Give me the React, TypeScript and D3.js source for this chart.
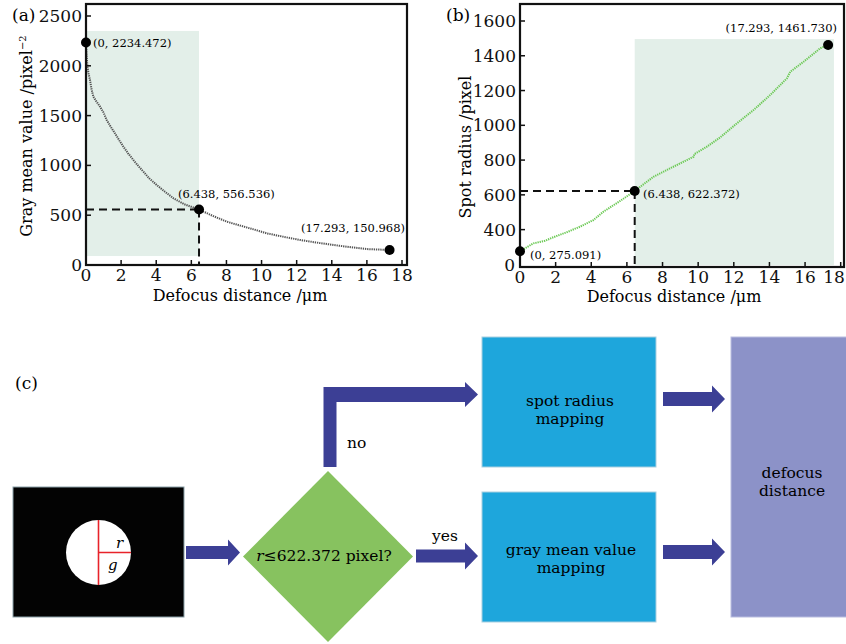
import React from "react";
import * as d3 from "d3";

// ---------- data ----------
const grayX = [0, 0.04, 0.08, 0.15, 0.23, 0.32, 0.42, 0.6, 0.8, 1.0, 1.18, 1.4, 1.65, 1.9, 2.13, 2.4, 2.7, 3.0, 3.27, 3.6, 4.03, 4.5, 4.98, 5.6, 6.438, 7.2, 8.02, 8.8, 9.54, 10.3, 11.2, 12.2, 13.1, 14.1, 15.0, 16.0, 16.7, 17.293];
const grayY = [2234.472, 2100, 1990, 1920, 1855, 1760, 1690, 1640, 1590, 1530, 1456, 1390, 1322, 1250, 1188, 1120, 1054, 990, 937, 870, 803, 735, 670, 610, 556.536, 495, 435, 395, 358, 318, 285, 251, 226, 201, 180, 160, 155, 150.968];

const radiusX = [0, 0.4, 0.75, 1.4, 1.87, 2.62, 3.37, 4.12, 4.68, 5.62, 6.438, 7.49, 8.24, 9.36, 9.74, 9.79, 10.49, 11.24, 12.17, 13.11, 14.04, 14.98, 15.17, 15.92, 16.85, 17.293];
const radiusY = [275.091, 300, 321, 336, 356, 385, 417, 455, 503, 565, 622.372, 704, 743, 800, 819, 835, 877, 931, 1011, 1088, 1174, 1270, 1308, 1366, 1443, 1461.73];

const xTicks = [0, 2, 4, 6, 8, 10, 12, 14, 16, 18];
const yTicksA = [0, 500, 1000, 1500, 2000, 2500];
const yTicksB = [400, 600, 800, 1000, 1200, 1400, 1600];
const yBottomLabelB = "0";

const keyA = [
  { x: 0, y: 2234.472, label: "(0, 2234.472)" },
  { x: 6.438, y: 556.536, label: "(6.438, 556.536)" },
  { x: 17.293, y: 150.968, label: "(17.293, 150.968)" },
];
const keyB = [
  { x: 0, y: 275.091, label: "(0, 275.091)" },
  { x: 6.438, y: 622.372, label: "(6.438, 622.372)" },
  { x: 17.293, y: 1461.73, label: "(17.293, 1461.730)" },
];
const shadeA = { x0: 0, x1: 6.438, y0: 90, y1: 2350 };
const shadeB = { x0: 6.438, x1: 17.62, y0: 196, y1: 1496 };

const FONT = "'DejaVu Serif', serif";
const SHADE = "#e3efe9";
const ARROW = "#3c3f95";

function Axes({ x, y, xt, yt, frame, bottomLabel }: any) {
  return (
    <g fontFamily={FONT} fill="#111">
      {xt.map((t: number) => {
        const lx = Math.min(x(t), 834);
        return (
          <g key={"x" + t}>
            <line x1={x(t)} x2={x(t)} y1={frame.b} y2={frame.b - 5} stroke="#111" strokeWidth={1.5} />
            <text x={lx} y={frame.b + 16} fontSize={17} textAnchor="middle">{t}</text>
          </g>
        );
      })}
      {yt.map((t: number) => (
        <g key={"y" + t}>
          <line x1={frame.l} x2={frame.l + 5} y1={y(t)} y2={y(t)} stroke="#111" strokeWidth={1.5} />
          <text x={frame.l - 4} y={y(t) + 6} fontSize={17} textAnchor="end">{t}</text>
        </g>
      ))}
      {bottomLabel && (
        <text x={frame.l - 5} y={frame.b + 4} fontSize={17} textAnchor="end">{bottomLabel}</text>
      )}
      <rect x={frame.l} y={frame.t} width={frame.r - frame.l} height={frame.b - frame.t} fill="none" stroke="#111" strokeWidth={2.2} />
    </g>
  );
}

function Arrow({ x0, xh, tip, cy, h, H }: any) {
  const pts = [
    [x0, cy - h], [xh, cy - h], [xh, cy - H], [tip, cy], [xh, cy + H], [xh, cy + h], [x0, cy + h],
  ];
  return <polygon points={pts.map((p) => p.join(",")).join(" ")} fill={ARROW} />;
}

export default function App() {
  // panel (a)
  const fA = { l: 86, r: 407, t: 4, b: 265 };
  const xA = d3.scaleLinear().domain([0, 18]).range([86, 402]);
  const yA = d3.scaleLinear().domain([0, 2500]).range([265, 16]);
  const lineA = d3.line<number>().x((_, i) => xA(grayX[i])).y((d) => yA(d)).curve(d3.curveLinear);

  // panel (b)
  const fB = { l: 520, r: 844, t: 4, b: 267 };
  const xB = d3.scaleLinear().domain([0, 18]).range([520, 840.7]);
  const yB = d3.scaleLinear().domain([185, 1600]).range([267, 21]);
  const lineB = d3.line<number>().x((_, i) => xB(radiusX[i])).y((d) => yB(d));

  const kA = keyA[1];
  const kB = keyB[1];

  return (
    <svg width={846} height={644} style={{ position: "absolute", left: 0, top: 0, background: "#fff" }} fontFamily={FONT}>
      <rect width={846} height={644} fill="#fff" />
      {/* ---------- panel a ---------- */}
      <rect x={xA(shadeA.x0)} y={yA(shadeA.y1)} width={xA(shadeA.x1) - xA(shadeA.x0)} height={yA(shadeA.y0) - yA(shadeA.y1)} fill={SHADE} />
      <path d={lineA(grayY) || ""} fill="none" stroke="#555" strokeWidth={2} strokeDasharray="1.3 0.9" />
      <line x1={fA.l} x2={xA(kA.x)} y1={yA(kA.y)} y2={yA(kA.y)} stroke="#111" strokeWidth={2} strokeDasharray="8 5" />
      <line x1={xA(kA.x)} x2={xA(kA.x)} y1={yA(kA.y)} y2={fA.b} stroke="#111" strokeWidth={2} strokeDasharray="8 5" />
      <Axes x={xA} y={yA} xt={xTicks} yt={yTicksA} frame={fA} />
      {keyA.map((k) => (
        <circle key={k.label} cx={xA(k.x)} cy={yA(k.y)} r={5} fill="#000" />
      ))}
      <text x={93} y={47} fontSize={11.5}>{keyA[0].label}</text>
      <text x={178} y={198} fontSize={11.5}>{keyA[1].label}</text>
      <text x={405} y={232} fontSize={11.5} textAnchor="end">{keyA[2].label}</text>
      <text x={12} y={21} fontSize={17}>(a)</text>
      <text x={240} y={301} fontSize={16} textAnchor="middle">Defocus distance /μm</text>
      <text transform="translate(32,136) rotate(-90)" fontSize={16} textAnchor="middle">
        Gray mean value /pixel<tspan dy={-6} fontSize={10}>−2</tspan>
      </text>

      {/* ---------- panel b ---------- */}
      <rect x={xB(shadeB.x0)} y={yB(shadeB.y1)} width={xB(shadeB.x1) - xB(shadeB.x0)} height={yB(shadeB.y0) - yB(shadeB.y1)} fill={SHADE} />
      <path d={lineB(radiusY) || ""} fill="none" stroke="#6cc955" strokeWidth={2} strokeDasharray="1.3 0.9" />
      <line x1={fB.l} x2={xB(kB.x)} y1={yB(kB.y)} y2={yB(kB.y)} stroke="#111" strokeWidth={2} strokeDasharray="8 5" />
      <line x1={xB(kB.x)} x2={xB(kB.x)} y1={yB(kB.y)} y2={fB.b} stroke="#111" strokeWidth={2} strokeDasharray="8 5" />
      <Axes x={xB} y={yB} xt={xTicks} yt={yTicksB} frame={fB} bottomLabel={yBottomLabelB} />
      {keyB.map((k) => (
        <circle key={k.label} cx={xB(k.x)} cy={yB(k.y)} r={5} fill="#000" />
      ))}
      <text x={530} y={259} fontSize={11.5}>{keyB[0].label}</text>
      <text x={643} y={198} fontSize={11.5}>{keyB[1].label}</text>
      <text x={837} y={32} fontSize={11.5} textAnchor="end">{keyB[2].label}</text>
      <text x={446} y={21} fontSize={17}>(b)</text>
      <text x={674} y={302} fontSize={16} textAnchor="middle">Defocus distance /μm</text>
      <text transform="translate(471,147) rotate(-90)" fontSize={16} textAnchor="middle">Spot radius /pixel</text>

      {/* ---------- panel c (flowchart) ---------- */}
      <text x={15} y={389} fontSize={17}>(c)</text>
      {/* image */}
      <rect x={13} y={487} width={171} height={130} fill="#030303" stroke="#8aa0a8" strokeWidth={1} />
      <circle cx={98.5} cy={552.5} r={32.5} fill="#fff" />
      <line x1={98.5} x2={98.5} y1={520} y2={585} stroke="#e8232a" strokeWidth={1.6} />
      <line x1={98.5} x2={131} y1={552.5} y2={552.5} stroke="#e8232a" strokeWidth={1.6} />
      <text x={116} y={548} fontSize={15} fontStyle="italic">r</text>
      <text x={108} y={570} fontSize={15} fontStyle="italic">g</text>
      <Arrow x0={186} xh={228} tip={240} cy={552.5} h={6.5} H={13} />
      {/* diamond */}
      <polygon points="328,471 413,556.5 328,642 243,556.5" fill="#87c25f" />
      <text x={324} y={561} fontSize={15.5} textAnchor="middle">
        <tspan fontStyle="italic">r</tspan>≤622.372 pixel?
      </text>
      {/* no branch */}
      <polygon points="323.5,467 336.5,467 336.5,402 465,402 465,407 478,394.5 465,382 465,387 323.5,387" fill={ARROW} />
      <text x={347} y={448} fontSize={15.5}>no</text>
      {/* yes branch */}
      <Arrow x0={416} xh={465} tip={478} cy={556} h={6.5} H={13.5} />
      <text x={445} y={541} fontSize={15.5} textAnchor="middle">yes</text>
      {/* boxes */}
      <rect x={482} y={337} width={174} height={130} fill="#1ea6dc" stroke="#a9cfe0" strokeWidth={1} />
      <text x={570} y={406} fontSize={15.5} textAnchor="middle">spot radius</text>
      <text x={570} y={424} fontSize={15.5} textAnchor="middle">mapping</text>
      <rect x={482} y={492} width={174} height={130} fill="#1ea6dc" stroke="#a9cfe0" strokeWidth={1} />
      <text x={571} y={555} fontSize={15.5} textAnchor="middle">gray mean value</text>
      <text x={571} y={573} fontSize={15.5} textAnchor="middle">mapping</text>
      <Arrow x0={663} xh={712} tip={725} cy={399} h={7} H={13.5} />
      <Arrow x0={663} xh={712} tip={725} cy={552} h={7} H={13.5} />
      <rect x={731} y={337} width={120} height={280} fill="#8c92c8" stroke="#b9bde0" strokeWidth={1} />
      <text x={792} y={478} fontSize={15.5} textAnchor="middle">defocus</text>
      <text x={792} y={496} fontSize={15.5} textAnchor="middle">distance</text>
    </svg>
  );
}
